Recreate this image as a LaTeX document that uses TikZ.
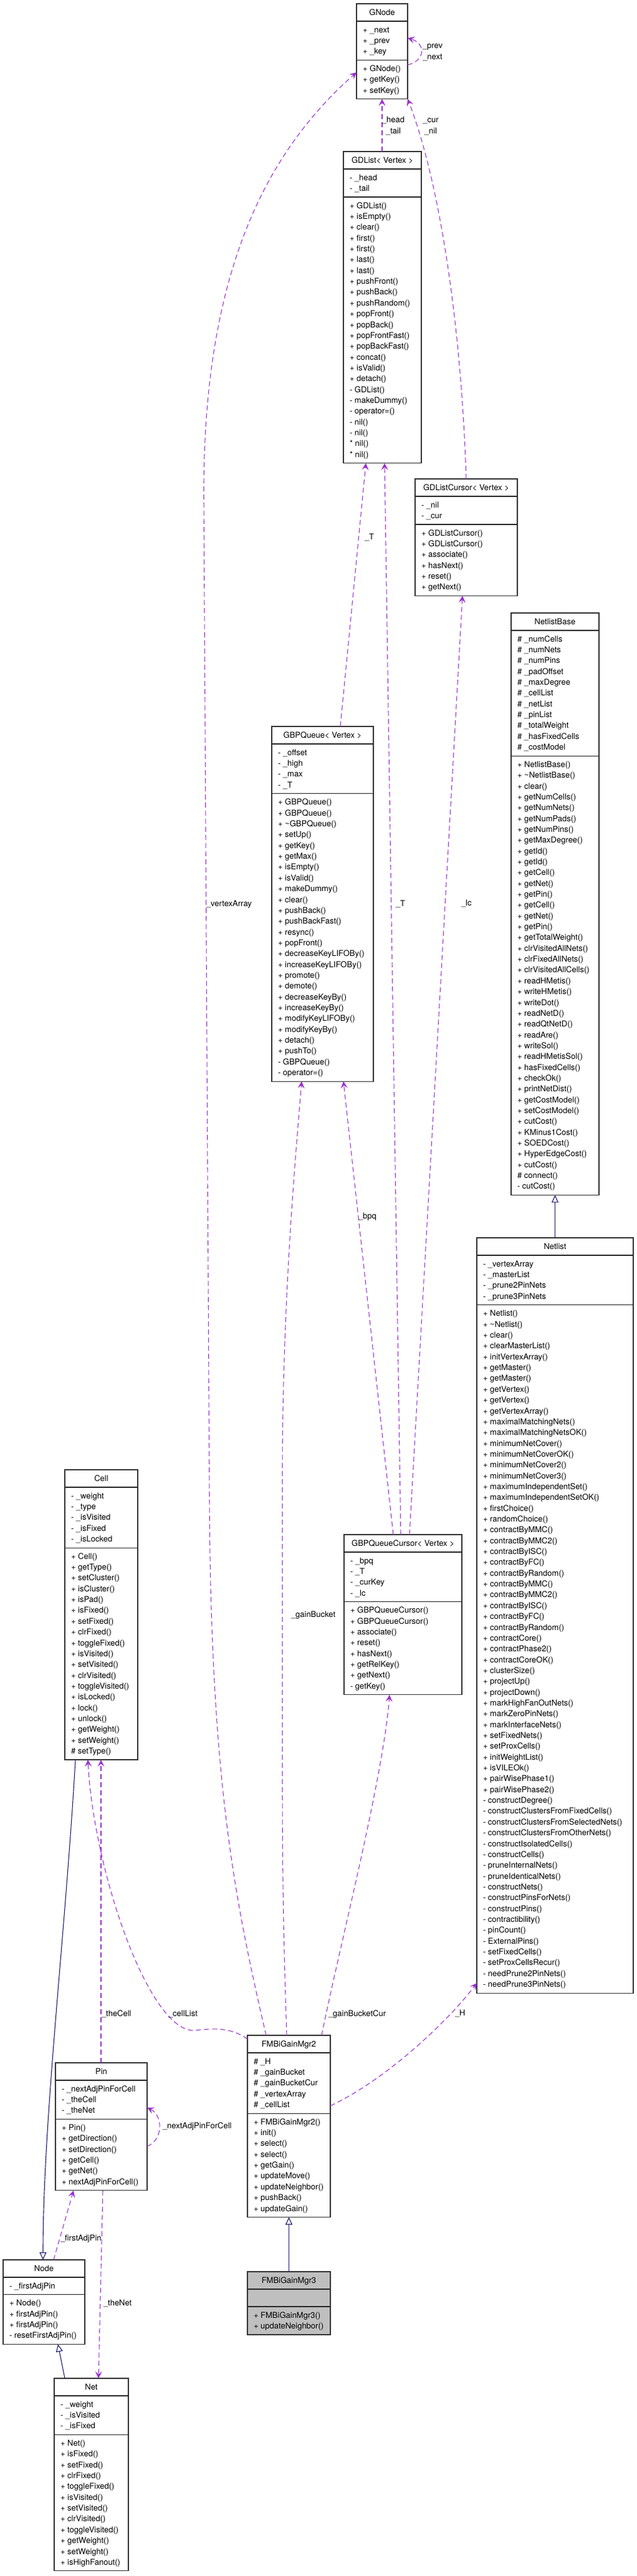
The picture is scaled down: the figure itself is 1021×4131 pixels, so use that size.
\documentclass[tikz,border=0pt]{standalone}
\usepackage{fontspec}
\setmainfont{TeX Gyre Heros}
\usetikzlibrary{arrows.meta}
\definecolor{orchid}{HTML}{9A32CD}
\definecolor{navyc}{HTML}{191970}
\definecolor{boxgray}{HTML}{BFBFBF}
\newcommand\cfont{\fontsize{13}{17.35}\selectfont}
\tikzset{
  boxframe/.style={draw=black!80, line width=1.1pt, inner sep=0pt, outer sep=0pt},
  boxline/.style={draw=black!85, line width=1.1pt},
  boxtext/.style={inner sep=0pt, outer sep=0pt, font=\cfont, text=black},
  elabel/.style={inner sep=0pt, outer sep=0pt, font=\cfont, text=black, anchor=base west},
  elabel2/.style={inner sep=0pt, outer sep=0pt, font=\cfont, text=black, anchor=north, align=center},
  assoc/.style={draw=orchid, line width=1.1pt, dash pattern=on 8pt off 5pt, -{Stealth[length=11pt,width=11pt,inset=4.5pt]}},
  inherit/.style={draw=navyc, line width=1.1pt, -{Triangle[open,length=12pt,width=11pt,fill=white]}}
}
\newcommand\umlbox[9]{%
  \pgfmathsetmacro\hA{ifthenelse(#5==0,28,#5*17.35+10.3)}%
  \pgfmathsetmacro\hM{#6*17.35+10.3}%
  \pgfmathsetmacro\hT{28+\hA+\hM}%
  \pgfmathsetmacro\dB{28+\hA}%
  \pgfmathsetmacro\dC{\dB+6}%
  \node[boxframe, minimum width=#4pt, minimum height=\hT pt, anchor=north west] (#1) at (#2,#3) {};
  \draw[boxline] ([yshift=-28pt]#1.north west) -- ([yshift=-28pt]#1.north east);
  \draw[boxline] ([yshift=-\dB pt]#1.north west) -- ([yshift=-\dB pt]#1.north east);
  \node[boxtext, anchor=base] (#1-h) at ([yshift=-18.7pt]#1.north) {#7};
  \node[boxtext, anchor=north west, align=left] (#1-a) at ([xshift=10pt,yshift=-34pt]#1.north west) {\strut#8};
  \node[boxtext, anchor=north west, align=left] (#1-m) at ([xshift=10pt,yshift=-\dC pt]#1.north west) {\strut#9};
}
\begin{document}
\begin{tikzpicture}[x=1pt,y=-1pt]
\useasboundingbox (0,0) rectangle (1021,4131);
\fill[boxgray] (397,3643) rectangle (530,3744);

\umlbox{gnode}{572}{6}{82}{3}{3}{GNode}{+ \_next\\+ \_prev\\+ \_key}{+ GNode()\\+ getKey()\\+ setKey()}

\umlbox{gdlist}{551}{243}{125}{2}{24}{GDList< Vertex >}{- \_head\\- \_tail}{+ GDList()\\+ isEmpty()\\+ clear()\\+ first()\\+ first()\\+ last()\\+ last()\\+ pushFront()\\+ pushBack()\\+ pushRandom()\\+ popFront()\\+ popBack()\\+ popFrontFast()\\+ popBackFast()\\+ concat()\\+ isValid()\\+ detach()\\- GDList()\\- makeDummy()\\- operator=()\\- nil()\\- nil()\\* nil()\\* nil()}

\umlbox{gdlc}{666}{768}{164}{2}{6}{GDListCursor< Vertex >}{- \_nil\\- \_cur}{+ GDListCursor()\\+ GDListCursor()\\+ associate()\\+ hasNext()\\+ reset()\\+ getNext()}

\umlbox{nlb}{820}{983}{141}{11}{40}{NetlistBase}{\# \_numCells\\\# \_numNets\\\# \_numPins\\\# \_padOffset\\\# \_maxDegree\\\# \_cellList\\\# \_netList\\\# \_pinList\\\# \_totalWeight\\\# \_hasFixedCells\\\# \_costModel}{+ NetlistBase()\\+ \textasciitilde NetlistBase()\\+ clear()\\+ getNumCells()\\+ getNumNets()\\+ getNumPads()\\+ getNumPins()\\+ getMaxDegree()\\+ getId()\\+ getId()\\+ getCell()\\+ getNet()\\+ getPin()\\+ getCell()\\+ getNet()\\+ getPin()\\+ getTotalWeight()\\+ clrVisitedAllNets()\\+ clrFixedAllNets()\\+ clrVisitedAllCells()\\+ readHMetis()\\+ writeHMetis()\\+ writeDot()\\+ readNetD()\\+ readQtNetD()\\+ readAre()\\+ writeSol()\\+ readHMetisSol()\\+ hasFixedCells()\\+ checkOk()\\+ printNetDist()\\+ getCostModel()\\+ setCostModel()\\+ cutCost()\\+ KMinus1Cost()\\+ SOEDCost()\\+ HyperEdgeCost()\\+ cutCost()\\\# connect()\\- cutCost()}

\umlbox{nl}{765}{1985}{251}{4}{63}{Netlist}{- \_vertexArray\\- \_masterList\\- \_prune2PinNets\\- \_prune3PinNets}{+ Netlist()\\+ \textasciitilde Netlist()\\+ clear()\\+ clearMasterList()\\+ initVertexArray()\\+ getMaster()\\+ getMaster()\\+ getVertex()\\+ getVertex()\\+ getVertexArray()\\+ maximalMatchingNets()\\+ maximalMatchingNetsOK()\\+ minimumNetCover()\\+ minimumNetCoverOK()\\+ minimumNetCover2()\\+ minimumNetCover3()\\+ maximumIndependentSet()\\+ maximumIndependentSetOK()\\+ firstChoice()\\+ randomChoice()\\+ contractByMMC()\\+ contractByMMC2()\\+ contractByISC()\\+ contractByFC()\\+ contractByRandom()\\+ contractByMMC()\\+ contractByMMC2()\\+ contractByISC()\\+ contractByFC()\\+ contractByRandom()\\+ contractCore()\\+ contractPhase2()\\+ contractCoreOK()\\+ clusterSize()\\+ projectUp()\\+ projectDown()\\+ markHighFanOutNets()\\+ markZeroPinNets()\\+ markInterfaceNets()\\+ setFixedNets()\\+ setProxCells()\\+ initWeightList()\\+ isVILEOk()\\+ pairWisePhase1()\\+ pairWisePhase2()\\- constructDegree()\\- constructClustersFromFixedCells()\\- constructClustersFromSelectedNets()\\- constructClustersFromOtherNets()\\- constructIsolatedCells()\\- constructCells()\\- pruneInternalNets()\\- pruneIdenticalNets()\\- constructNets()\\- constructPinsForNets()\\- constructPins()\\- contractibility()\\- pinCount()\\- ExternalPins()\\- setFixedCells()\\- setProxCellsRecur()\\- needPrune2PinNets()\\- needPrune3PinNets()}

\umlbox{gbpq}{436}{1165}{163}{4}{26}{GBPQueue< Vertex >}{- \_offset\\- \_high\\- \_max\\- \_T}{+ GBPQueue()\\+ GBPQueue()\\+ \textasciitilde GBPQueue()\\+ setUp()\\+ getKey()\\+ getMax()\\+ isEmpty()\\+ isValid()\\+ makeDummy()\\+ clear()\\+ pushBack()\\+ pushBackFast()\\+ resync()\\+ popFront()\\+ decreaseKeyLIFOBy()\\+ increaseKeyLIFOBy()\\+ promote()\\+ demote()\\+ decreaseKeyBy()\\+ increaseKeyBy()\\+ modifyKeyLIFOBy()\\+ modifyKeyBy()\\+ detach()\\+ pushTo()\\- GBPQueue()\\- operator=()}

\umlbox{gbpqc}{552}{2461}{189}{4}{8}{GBPQueueCursor< Vertex >}{- \_bpq\\- \_T\\- \_curKey\\- \_lc}{+ GBPQueueCursor()\\+ GBPQueueCursor()\\+ associate()\\+ reset()\\+ hasNext()\\+ getRelKey()\\+ getNext()\\- getKey()}

\umlbox{cell}{104}{2357}{117}{5}{19}{Cell}{- \_weight\\- \_type\\- \_isVisited\\- \_isFixed\\- \_isLocked}{+ Cell()\\+ getType()\\+ setCluster()\\+ isCluster()\\+ isPad()\\+ isFixed()\\+ setFixed()\\+ clrFixed()\\+ toggleFixed()\\+ isVisited()\\+ setVisited()\\+ clrVisited()\\+ toggleVisited()\\+ isLocked()\\+ lock()\\+ unlock()\\+ getWeight()\\+ setWeight()\\\# setType()}

\umlbox{mgr2}{397}{3264}{133}{5}{9}{FMBiGainMgr2}{\# \_H\\\# \_gainBucket\\\# \_gainBucketCur\\\# \_vertexArray\\\# \_cellList}{+ FMBiGainMgr2()\\+ init()\\+ select()\\+ select()\\+ getGain()\\+ updateMove()\\+ updateNeighbor()\\+ pushBack()\\+ updateGain()}

\umlbox{mgr3}{397}{3643}{133}{0}{2}{FMBiGainMgr3}{}{+ FMBiGainMgr3()\\+ updateNeighbor()}

\umlbox{pin}{89}{3308}{147}{3}{6}{Pin}{- \_nextAdjPinForCell\\- \_theCell\\- \_theNet}{+ Pin()\\+ getDirection()\\+ setDirection()\\+ getCell()\\+ getNet()\\+ nextAdjPinForCell()}

\umlbox{node}{5}{3624}{131}{1}{4}{Node}{- \_firstAdjPin}{+ Node()\\+ firstAdjPin()\\+ firstAdjPin()\\- resetFirstAdjPin()}

\umlbox{net}{87}{3814}{119}{3}{12}{Net}{- \_weight\\- \_isVisited\\- \_isFixed}{+ Net()\\+ isFixed()\\+ setFixed()\\+ clrFixed()\\+ toggleFixed()\\+ isVisited()\\+ setVisited()\\+ clrVisited()\\+ toggleVisited()\\+ getWeight()\\+ setWeight()\\+ isHighFanout()}

% connectors
\draw[assoc] ([yshift=-98pt]gnode.north east) .. controls (682,98) and (684,70) .. ([yshift=-55pt]gnode.north east);
\draw[assoc] ([xshift=62pt]gdlist.north west) -- ([xshift=41pt]gnode.south west);
\draw[assoc] (gdlc.north) .. controls (740,520) and (705,290) .. (gnode.south east);
\draw[assoc] ([xshift=30pt]mgr2.north west) .. controls (375,3040) and (338,2850) .. (336,2400) -- (327,800) .. controls (325,450) and (420,250) .. ([yshift=-110pt]gnode.north west);
\draw[assoc] ([xshift=110pt]gbpq.north west) -- ([xshift=36pt]gdlist.south west);
\draw[assoc] ([xshift=91pt]gbpqc.north west) -- ([xshift=66pt]gdlist.south west);
\draw[assoc] ([xshift=105pt]gbpqc.north west) -- ([xshift=76pt]gdlc.south west);
\draw[assoc] ([xshift=79pt]gbpqc.north west) -- ([xshift=115pt]gbpq.south west);
\draw[assoc] ([xshift=63pt]mgr2.north west) .. controls (455,3120) and (453,3000) .. (453,2850) -- (453,2350) .. controls (454,2100) and (470,1900) .. ([xshift=48pt]gbpq.south west);
\draw[assoc] ([xshift=119pt]mgr2.north west) .. controls (545,3120) and (615,2850) .. ([xshift=73pt]gbpqc.south west);
\draw[assoc] ([yshift=-6pt]mgr2.north west) .. controls (370,3250) and (340,3253) .. (313,3256) .. controls (240,3262) and (150,3000) .. ([xshift=37pt]cell.south west);
\draw[assoc] ([xshift=73pt]pin.north west) -- ([xshift=58pt]cell.south west);
\draw[assoc] ([yshift=-113pt]mgr2.north east) .. controls (620,3335) and (720,3240) .. ([yshift=16pt]nl.south west);
\draw[assoc] ([yshift=-134pt]pin.north east) .. controls (262,3432) and (262,3392) .. ([yshift=-72pt]pin.north east);
\draw[assoc] ([xshift=81pt]node.north west) -- ([xshift=29pt]pin.south west);
\draw[assoc] ([xshift=76pt]pin.south west) -- ([xshift=71pt]net.north west);
\draw[inherit] (nl.north) -- (nlb.south);
\draw[inherit] (mgr3.north) -- (mgr2.south);
\draw[inherit] ([xshift=17pt]cell.south west) .. controls (105,3100) and (69,3400) .. ([xshift=64pt]node.north west);
\draw[inherit] ([xshift=17pt]net.north west) -- ([xshift=88pt]node.south west);

% labels
\node[elabel2] (l-prevnext) at (694,65.7) {\strut\_prev\\\_next};
\node[elabel2] (l-headtail) at (631,184.7) {\strut\_head\\\_tail};
\node[elabel2] (l-curnil) at (691,184.7) {\strut\_cur\\\_nil};
\node[elabel] (l-t1) at (585,865.5) {\_T};
\node[elabel] (l-t2) at (635,1453.5) {\_T};
\node[elabel] (l-lc) at (740,1452.5) {\_lc};
\node[elabel] (l-va) at (331,1453.5) {\_vertexArray};
\node[elabel] (l-bpq) at (575,1954.5) {\_bpq};
\node[elabel] (l-gb) at (467,2593.5) {\_gainBucket};
\node[elabel] (l-thecell) at (163,3233.5) {\_theCell};
\node[elabel] (l-celllist) at (270,3233.5) {\_cellList};
\node[elabel] (l-gbc) at (527,3233.5) {\_gainBucketCur};
\node[elabel] (l-h) at (730,3232.5) {\_H};
\node[elabel] (l-napfc) at (261,3413.5) {\_nextAdjPinForCell};
\node[elabel] (l-fap) at (97,3593.5) {\_firstAdjPin};
\node[elabel] (l-thenet) at (166,3697.5) {\_theNet};
\end{tikzpicture}
\end{document}
